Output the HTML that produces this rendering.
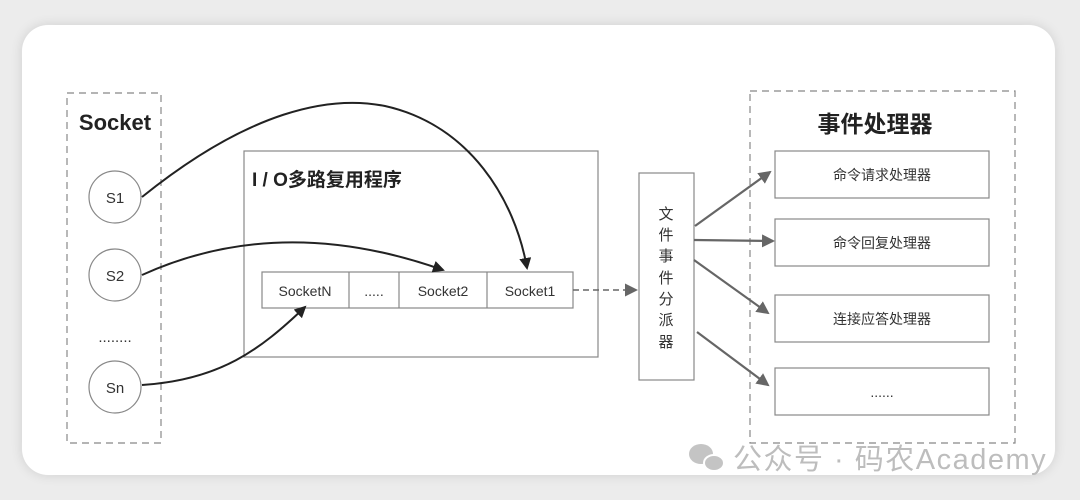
<!DOCTYPE html>
<html><head><meta charset="utf-8"><style>
body{margin:0;width:1080px;height:500px;background:#ececec;overflow:hidden;font-family:"Liberation Sans","Noto Sans CJK SC",sans-serif}
.card{position:absolute;left:22px;top:25px;width:1033px;height:450px;background:#fff;border-radius:26px;box-shadow:0 0 12px rgba(0,0,0,.12)}
svg{position:absolute;left:0;top:0}
</style></head><body>
<div class="card"></div>
<svg width="1080" height="500" viewBox="0 0 1080 500" font-family="Liberation Sans, Noto Sans CJK SC, sans-serif">
<defs>
<marker id="a" markerWidth="12" markerHeight="12" refX="10" refY="6" orient="auto" markerUnits="userSpaceOnUse"><path d="M0,0 L12,6 L0,12 z" fill="#222"/></marker>
<marker id="g" markerWidth="13" markerHeight="13" refX="11" refY="6.5" orient="auto" markerUnits="userSpaceOnUse"><path d="M0,0 L13,6.5 L0,13 z" fill="#666"/></marker>
</defs>
<rect x="67" y="93" width="94" height="350" fill="none" stroke="#888" stroke-dasharray="7,5" stroke-width="1.2"/>
<text x="115" y="130" font-size="22" font-weight="bold" text-anchor="middle" fill="#222">Socket</text>
<g fill="#fff" stroke="#888" stroke-width="1.2">
<circle cx="115" cy="197" r="26"/><circle cx="115" cy="275" r="26"/><circle cx="115" cy="387" r="26"/></g>
<g font-size="15" text-anchor="middle" fill="#333">
<text x="115" y="203">S1</text><text x="115" y="281">S2</text><text x="115" y="393">Sn</text>
<text x="115" y="342">........</text></g>
<rect x="244" y="151" width="354" height="206" fill="none" stroke="#888" stroke-width="1.2"/>
<text x="252" y="186" font-size="19" font-weight="bold" fill="#222">I / O多路复用程序</text>
<rect x="262" y="272" width="311" height="36" fill="#fff" stroke="#888" stroke-width="1.2"/>
<g stroke="#888" stroke-width="1.2"><line x1="349" y1="272" x2="349" y2="308"/><line x1="399" y1="272" x2="399" y2="308"/><line x1="487" y1="272" x2="487" y2="308"/></g>
<g font-size="14" text-anchor="middle" fill="#333">
<text x="305" y="296">SocketN</text><text x="374" y="296">.....</text><text x="443" y="296">Socket2</text><text x="530" y="296">Socket1</text></g>
<g fill="none" stroke="#222" stroke-width="2">
<path d="M142,197 C250,110 330,95 385,106 C470,125 515,200 527,268" marker-end="url(#a)"/>
<path d="M142,275 C230,235 330,230 443,270" marker-end="url(#a)"/>
<path d="M142,385 C220,380 260,350 305,307" marker-end="url(#a)"/>
</g>
<line x1="573" y1="290" x2="636" y2="290" stroke="#666" stroke-width="1.6" stroke-dasharray="6,4" marker-end="url(#g)"/>
<rect x="639" y="173" width="55" height="207" fill="#fff" stroke="#888" stroke-width="1.2"/>
<g font-size="15" text-anchor="middle" fill="#333">
<text x="666" y="219">文</text><text x="666" y="240">件</text><text x="666" y="261">事</text><text x="666" y="283">件</text><text x="666" y="304">分</text><text x="666" y="325">派</text><text x="666" y="347">器</text></g>
<rect x="750" y="91" width="265" height="352" fill="none" stroke="#888" stroke-dasharray="7,5" stroke-width="1.2"/>
<text x="875" y="132" font-size="23" font-weight="bold" text-anchor="middle" fill="#222">事件处理器</text>
<g fill="#fff" stroke="#888" stroke-width="1.2">
<rect x="775" y="151" width="214" height="47"/><rect x="775" y="219" width="214" height="47"/><rect x="775" y="295" width="214" height="47"/><rect x="775" y="368" width="214" height="47"/></g>
<g font-size="14" text-anchor="middle" fill="#333">
<text x="882" y="180">命令请求处理器</text><text x="882" y="248">命令回复处理器</text><text x="882" y="324">连接应答处理器</text><text x="882" y="397">......</text></g>
<g stroke="#666" stroke-width="2.2" marker-end="url(#g)">
<line x1="695" y1="226" x2="770" y2="172"/><line x1="694" y1="240" x2="773" y2="241"/><line x1="694" y1="260" x2="768" y2="313"/><line x1="697" y1="332" x2="768" y2="385"/></g>
<g fill="#c4c4c4"><ellipse cx="701" cy="454" rx="12" ry="10"/><ellipse cx="714" cy="463" rx="10" ry="8" stroke="#fff" stroke-width="2"/></g>
<text x="733" y="469" font-size="29" letter-spacing="1.5" fill="#bdbdbd">公众号 · 码农Academy</text>
</svg>
</body></html>
